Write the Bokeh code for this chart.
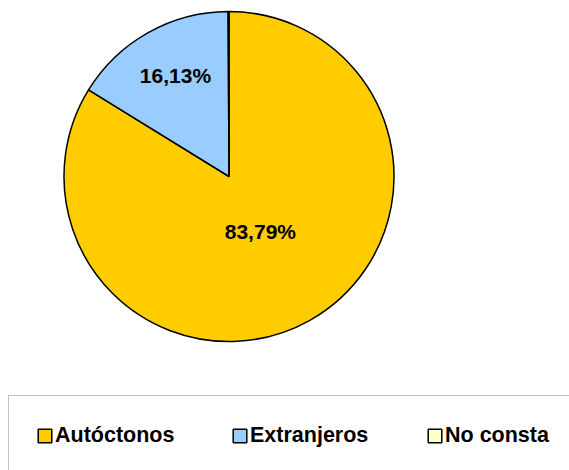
import numpy as np
from bokeh.plotting import figure
from bokeh.models import ColumnDataSource, Range1d, Legend, LegendItem
from bokeh.core.properties import value
from bokeh.embed import file_html
from bokeh.resources import INLINE

# ---- data ----
categories = ["Autóctonos", "Extranjeros", "No consta"]
percentages = [83.79, 16.13, 0.08]
labels = ["83,79%", "16,13%", ""]
colors = ["#FFCC00", "#99CCFF", "#FFFFCC"]

# ---- style / layout ----
label_radius_frac = [0.39, 0.70, 0.0]
label_dx = [0, 3, 0]
label_dy = [-1, 0, 0]
W, H = 569, 470
CX, CY, R = 228.5, H - 176, 165
FONT = "Liberation Sans"

frac = np.array(percentages) / sum(percentages)
cum = np.concatenate([[0.0], np.cumsum(frac)[:-1]])
start = np.pi / 2 - 2 * np.pi * (cum + frac)
end = np.pi / 2 - 2 * np.pi * cum
mid = (start + end) / 2
lf = np.array(label_radius_frac)

src = ColumnDataSource(dict(
    cat=categories, pct=percentages, color=colors,
    start=start, end=end,
    lx=CX + R * lf * np.cos(mid), ly=CY + R * lf * np.sin(mid),
    dx=label_dx, dy=label_dy,
    label=labels,
))

p = figure(width=W, height=H, output_backend="svg", toolbar_location=None,
           x_range=Range1d(0, W), y_range=Range1d(0, H),
           x_axis_type=None, y_axis_type=None, min_border=0)
p.outline_line_color = None
p.xgrid.visible = False
p.ygrid.visible = False
p.background_fill_color = "white"
p.border_fill_color = "white"

r = p.wedge(x=CX, y=CY, radius=R, start_angle="start", end_angle="end",
            fill_color="color", line_color="black", line_width=1.5, source=src)

p.text(x="lx", y="ly", text="label", source=src, text_align="center",
       text_baseline="middle", x_offset="dx", y_offset="dy",
       text_font=value(FONT), text_font_style="bold",
       text_font_size="21px", text_color="black")

items = [LegendItem(label=c, renderers=[r], index=i) for i, c in enumerate(categories)]
legend = Legend(items=items, orientation="horizontal", location=(8, -6),
                glyph_width=17, glyph_height=17, label_standoff=2,
                label_width=172, spacing=4, padding=27,
                label_text_font=FONT, label_text_font_style="bold",
                label_text_font_size="21.5px", label_text_color="black",
                border_line_color="#808080", border_line_width=1,
                background_fill_color="white", background_fill_alpha=1.0)
p.add_layout(legend)

open("out.html", "w").write(file_html(p, INLINE))
